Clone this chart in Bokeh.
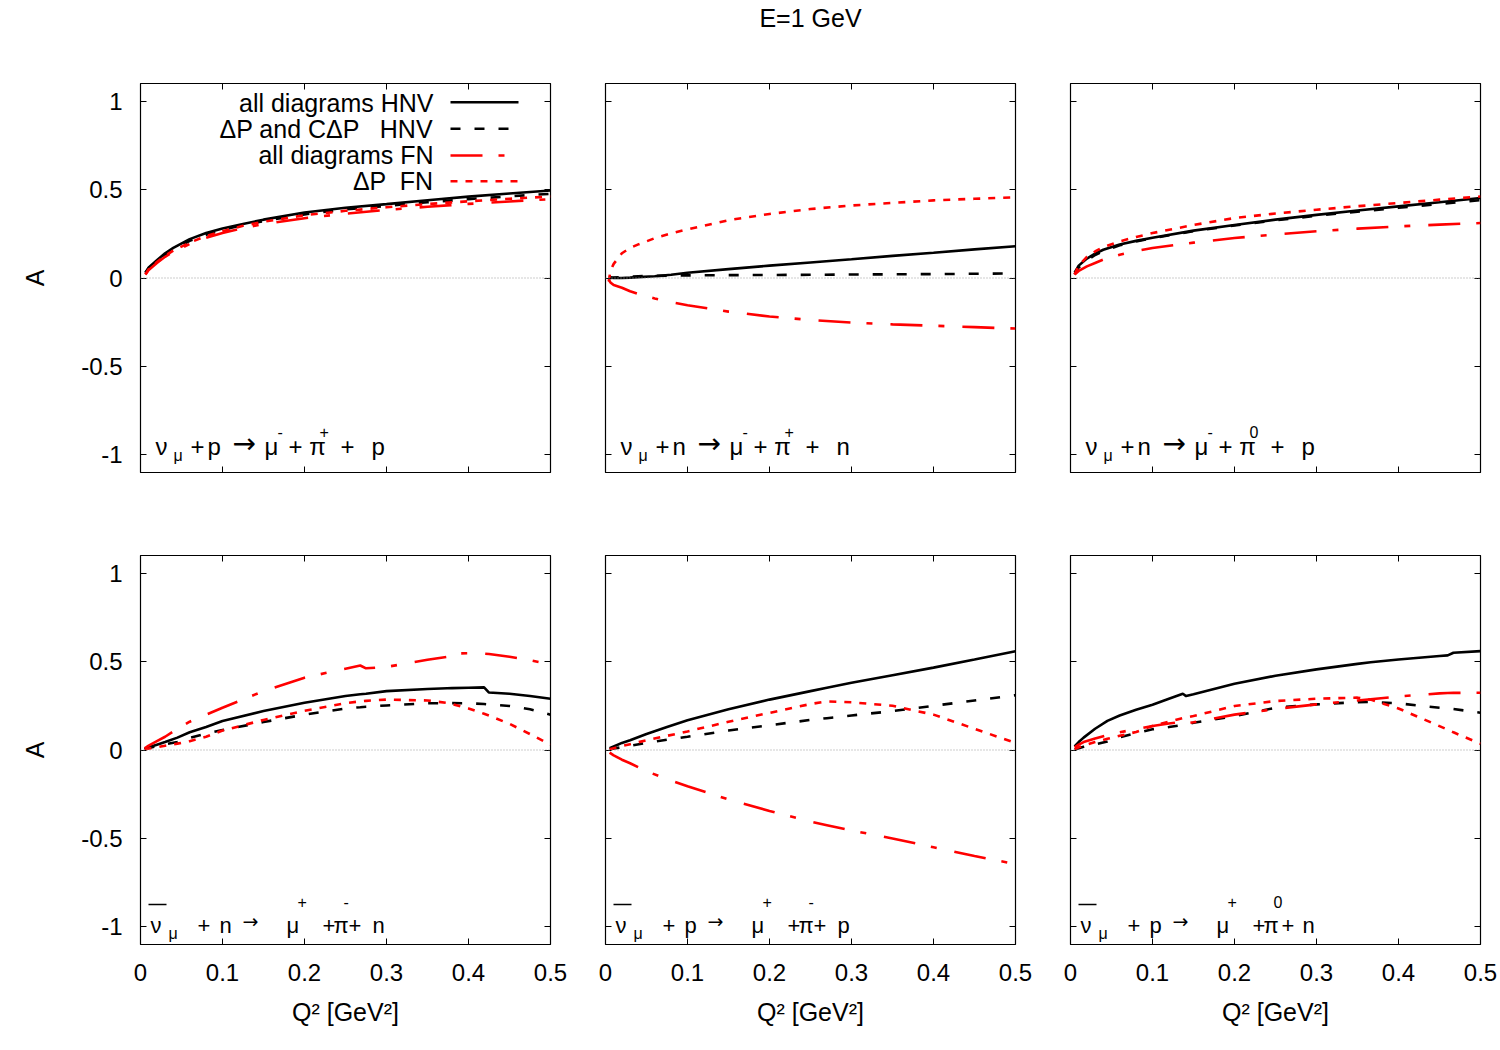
from bokeh.plotting import figure
from bokeh.layouts import column, row
from bokeh.models import Range1d, LinearAxis, FixedTicker, Span, ColumnDataSource
from bokeh.core.properties import value
from bokeh.embed import file_html
from bokeh.resources import INLINE

FONT = "Liberation Sans"
ARROW_FONT = "DejaVu Sans"

# ---- axes ----
x_ticks = [0, 0.1, 0.2, 0.3, 0.4, 0.5]
x_tick_labels = ["0", "0.1", "0.2", "0.3", "0.4", "0.5"]
y_ticks = [-1, -0.5, 0, 0.5, 1]
y_tick_labels = ["-1", "-0.5", "0", "0.5", "1"]
x_title = "Q\u00b2 [GeV\u00b2]"
y_title = "A"
plot_title = "E=1 GeV"

# ---- legend ----
series_names = ["all diagrams HNV", "\u0394P and C\u0394P \u00a0 HNV", "all diagrams FN", "\u0394P \u00a0FN"]
series_colors = ["black", "black", "red", "red"]
series_dashes = ["solid", "10 14", "32 16 6 18", "7 8"]

# ---- nu_mu + p -> mu- + pi+ + p ----
q_p1 = [0.006, 0.01, 0.02, 0.03, 0.04, 0.06, 0.08, 0.1, 0.125, 0.15, 0.2, 0.25, 0.3, 0.35, 0.4, 0.45, 0.5]
hnv_all_p1 = [0.03, 0.06, 0.10, 0.14, 0.17, 0.22, 0.254, 0.28, 0.305, 0.33, 0.37, 0.397, 0.418, 0.44, 0.46, 0.478, 0.495]
hnv_dp_p1 = [0.03, 0.055, 0.095, 0.13, 0.16, 0.21, 0.245, 0.272, 0.30, 0.322, 0.36, 0.388, 0.408, 0.428, 0.446, 0.462, 0.476]
fn_all_p1 = [0.02, 0.045, 0.085, 0.12, 0.148, 0.192, 0.228, 0.255, 0.283, 0.305, 0.338, 0.364, 0.385, 0.403, 0.419, 0.433, 0.446]
fn_dp_p1 = [0.02, 0.05, 0.09, 0.125, 0.155, 0.20, 0.237, 0.265, 0.295, 0.318, 0.355, 0.38, 0.40, 0.418, 0.434, 0.448, 0.461]

# ---- nu_mu + n -> mu- + pi+ + n ----
q_p2 = [0.004, 0.006, 0.01, 0.02, 0.03, 0.04, 0.06, 0.08, 0.1, 0.15, 0.2, 0.25, 0.3, 0.35, 0.4, 0.45, 0.5]
hnv_all_p2 = [0.005, 0.004, 0.0, 0.0, 0.002, 0.005, 0.01, 0.018, 0.03, 0.05, 0.07, 0.088, 0.106, 0.125, 0.143, 0.162, 0.18]
hnv_dp_p2 = [0.0, 0.0, 0.002, 0.005, 0.008, 0.01, 0.012, 0.014, 0.015, 0.016, 0.017, 0.018, 0.02, 0.021, 0.022, 0.024, 0.026]
fn_all_p2 = [-0.01, -0.025, -0.04, -0.055, -0.075, -0.09, -0.116, -0.137, -0.154, -0.19, -0.218, -0.237, -0.252, -0.262, -0.27, -0.278, -0.286]
fn_dp_p2 = [-0.02, 0.04, 0.08, 0.14, 0.17, 0.19, 0.225, 0.252, 0.275, 0.327, 0.362, 0.39, 0.41, 0.425, 0.439, 0.448, 0.456]

# ---- nu_mu + n -> mu- + pi0 + p ----
q_p3 = [0.005, 0.01, 0.02, 0.03, 0.04, 0.06, 0.08, 0.1, 0.15, 0.2, 0.25, 0.3, 0.35, 0.4, 0.45, 0.5]
hnv_all_p3 = [0.03, 0.07, 0.11, 0.138, 0.16, 0.19, 0.21, 0.228, 0.268, 0.30, 0.33, 0.357, 0.382, 0.405, 0.428, 0.452]
hnv_dp_p3 = [0.02, 0.06, 0.10, 0.13, 0.152, 0.185, 0.207, 0.225, 0.265, 0.297, 0.326, 0.352, 0.375, 0.397, 0.418, 0.44]
fn_all_p3 = [0.02, 0.04, 0.066, 0.085, 0.104, 0.132, 0.152, 0.17, 0.20, 0.226, 0.246, 0.264, 0.279, 0.292, 0.302, 0.311]
fn_dp_p3 = [0.02, 0.07, 0.12, 0.15, 0.175, 0.207, 0.232, 0.254, 0.30, 0.339, 0.365, 0.386, 0.406, 0.424, 0.443, 0.461]

# ---- anti-nu_mu + n -> mu+ + pi- + n ----
q_p4 = [0.005, 0.01, 0.02, 0.03, 0.045, 0.06, 0.08, 0.1, 0.15, 0.2, 0.25, 0.268, 0.275, 0.3, 0.35, 0.374, 0.38, 0.4, 0.419, 0.425, 0.45, 0.475, 0.5]
hnv_all_p4 = [0.005, 0.015, 0.03, 0.045, 0.07, 0.10, 0.13, 0.164, 0.22, 0.267, 0.305, 0.315, 0.318, 0.333, 0.345, 0.349, 0.35, 0.352, 0.354, 0.325, 0.318, 0.305, 0.29]
hnv_dp_p4 = [0.005, 0.012, 0.022, 0.032, 0.045, 0.068, 0.092, 0.113, 0.158, 0.20, 0.235, 0.242, 0.245, 0.252, 0.264, 0.265, 0.265, 0.264, 0.26, 0.258, 0.249, 0.23, 0.20]
fn_all_p4 = [0.01, 0.025, 0.05, 0.075, 0.12, 0.16, 0.20, 0.239, 0.333, 0.409, 0.46, 0.478, 0.462, 0.47, 0.51, 0.527, 0.546, 0.547, 0.545, 0.543, 0.527, 0.508, 0.484]
fn_dp_p4 = [0.003, 0.008, 0.016, 0.024, 0.036, 0.05, 0.075, 0.11, 0.17, 0.222, 0.265, 0.275, 0.278, 0.285, 0.28, 0.266, 0.26, 0.235, 0.205, 0.195, 0.148, 0.09, 0.03]

# ---- anti-nu_mu + p -> mu+ + pi- + p ----
q_p5 = [0.005, 0.01, 0.02, 0.03, 0.05, 0.075, 0.1, 0.15, 0.2, 0.25, 0.27, 0.3, 0.35, 0.4, 0.45, 0.5]
hnv_all_p5 = [0.01, 0.02, 0.04, 0.055, 0.09, 0.13, 0.168, 0.23, 0.285, 0.333, 0.352, 0.38, 0.423, 0.466, 0.512, 0.559]
hnv_dp_p5 = [0.003, 0.008, 0.016, 0.024, 0.04, 0.058, 0.075, 0.11, 0.14, 0.17, 0.18, 0.195, 0.22, 0.25, 0.28, 0.31]
fn_all_p5 = [-0.015, -0.03, -0.055, -0.075, -0.12, -0.165, -0.205, -0.28, -0.345, -0.405, -0.425, -0.455, -0.50, -0.55, -0.60, -0.645]
fn_dp_p5 = [0.004, 0.01, 0.022, 0.033, 0.055, 0.08, 0.105, 0.16, 0.21, 0.26, 0.275, 0.27, 0.25, 0.20, 0.12, 0.04]

# ---- anti-nu_mu + p -> mu+ + pi0 + n ----
q_p6 = [0.005, 0.01, 0.016, 0.03, 0.045, 0.06, 0.08, 0.1, 0.12, 0.137, 0.141, 0.15, 0.2, 0.25, 0.3, 0.35, 0.366, 0.4, 0.45, 0.46, 0.467, 0.5]
hnv_all_p6 = [0.02, 0.045, 0.07, 0.12, 0.165, 0.195, 0.228, 0.256, 0.29, 0.318, 0.305, 0.315, 0.375, 0.42, 0.456, 0.487, 0.496, 0.512, 0.532, 0.535, 0.55, 0.559]
hnv_dp_p6 = [0.003, 0.01, 0.018, 0.032, 0.048, 0.072, 0.095, 0.117, 0.13, 0.142, 0.144, 0.154, 0.192, 0.239, 0.258, 0.271, 0.272, 0.264, 0.239, 0.235, 0.232, 0.211]
fn_all_p6 = [0.015, 0.03, 0.045, 0.065, 0.085, 0.10, 0.118, 0.136, 0.15, 0.16, 0.15, 0.157, 0.20, 0.232, 0.258, 0.28, 0.287, 0.303, 0.32, 0.322, 0.323, 0.324]
fn_dp_p6 = [0.005, 0.015, 0.025, 0.045, 0.063, 0.08, 0.102, 0.136, 0.16, 0.18, 0.183, 0.192, 0.249, 0.277, 0.29, 0.296, 0.285, 0.235, 0.135, 0.115, 0.10, 0.035]

# ---- reaction labels: pieces (text, x offset in px from the frame's left edge, style) ----
label_p1 = [("\u03bd", 15, "main"), ("\u03bc", 33, "sub"), ("+", 50, "main"), ("p", 67, "main"),
            ("\u2192", 92, "arrow"), ("\u03bc", 124, "main"), ("-", 137, "sup"),
            ("+ \u03c0", 148, "main"), ("+", 179, "sup"), ("+", 200, "main"), ("p", 231, "main")]
label_p2 = [("\u03bd", 15, "main"), ("\u03bc", 33, "sub"), ("+", 50, "main"), ("n", 67, "main"),
            ("\u2192", 92, "arrow"), ("\u03bc", 124, "main"), ("-", 137, "sup"),
            ("+ \u03c0", 148, "main"), ("+", 179, "sup"), ("+", 200, "main"), ("n", 231, "main")]
label_p3 = [("\u03bd", 15, "main"), ("\u03bc", 33, "sub"), ("+", 50, "main"), ("n", 67, "main"),
            ("\u2192", 92, "arrow"), ("\u03bc", 124, "main"), ("-", 137, "sup"),
            ("+ \u03c0", 148, "main"), ("0", 179, "sup"), ("+", 200, "main"), ("p", 231, "main")]
label_p4 = [("\u03bd", 10, "main"), ("\u03bc", 28, "sub"), ("+", 57, "main"), ("n", 79, "main"),
            ("\u2192", 102, "arrow"), ("\u03bc", 146, "main"), ("+", 157, "sup"),
            ("+", 182, "main"), ("\u03c0", 193, "main"), ("-", 203, "sup"),
            ("+", 208, "main"), ("n", 232, "main")]
label_p5 = [("\u03bd", 10, "main"), ("\u03bc", 28, "sub"), ("+", 57, "main"), ("p", 79, "main"),
            ("\u2192", 102, "arrow"), ("\u03bc", 146, "main"), ("+", 157, "sup"),
            ("+", 182, "main"), ("\u03c0", 193, "main"), ("-", 203, "sup"),
            ("+", 208, "main"), ("p", 232, "main")]
label_p6 = [("\u03bd", 10, "main"), ("\u03bc", 28, "sub"), ("+", 57, "main"), ("p", 79, "main"),
            ("\u2192", 102, "arrow"), ("\u03bc", 146, "main"), ("+", 157, "sup"),
            ("+", 182, "main"), ("\u03c0", 193, "main"), ("0", 203, "sup"),
            ("+", 211, "main"), ("n", 232, "main")]
antineutrino = [False, False, False, True, True, True]

panels = [
    (q_p1, [hnv_all_p1, hnv_dp_p1, fn_all_p1, fn_dp_p1], label_p1),
    (q_p2, [hnv_all_p2, hnv_dp_p2, fn_all_p2, fn_dp_p2], label_p2),
    (q_p3, [hnv_all_p3, hnv_dp_p3, fn_all_p3, fn_dp_p3], label_p3),
    (q_p4, [hnv_all_p4, hnv_dp_p4, fn_all_p4, fn_dp_p4], label_p4),
    (q_p5, [hnv_all_p5, hnv_dp_p5, fn_all_p5, fn_dp_p5], label_p5),
    (q_p6, [hnv_all_p6, hnv_dp_p6, fn_all_p6, fn_dp_p6], label_p6),
]

FRAME_W, FRAME_H = 410, 389
X_MAX = 0.5
Y_MIN, Y_MAX = -1.1, 1.1
BORDER_LEFT = [140, 28, 28]
BORDER_RIGHT = [27, 27, 20]
BORDER_TOP = [40, 43]
BORDER_BOTTOM = [40, 106]

# text sizes (px)
TICK_FS = 24
TITLE_FS = 25
LEGEND_FS = 25
SMALL_FS = 16
# per-row label settings: baselines in px from the frame top, and font sizes
PIECE_Y = {
    0: {"main": 372, "sub": 378, "sup": 354, "arrow": 370},
    1: {"main": 378, "sub": 384, "sup": 352, "arrow": 373},
}
PIECE_FS = {
    0: {"main": 24, "sub": SMALL_FS, "sup": SMALL_FS, "arrow": 28},
    1: {"main": 22, "sub": SMALL_FS, "sup": SMALL_FS, "arrow": 19},
}
OVERLINE_Y = 349


def px_to_x(px):
    return px * X_MAX / FRAME_W


def px_to_y(px_from_top):
    return Y_MAX - px_from_top * (Y_MAX - Y_MIN) / FRAME_H


def baseline_y(px_from_top, fs):
    # lift so that the glyph baseline lands on the requested row
    return px_to_y(px_from_top - 0.37 * fs)


def add_axis(p, loc, ticks, labels=None, title=None):
    ax = LinearAxis(ticker=FixedTicker(ticks=ticks))
    ax.axis_line_color = None
    ax.major_tick_in = 6
    ax.major_tick_out = 0
    ax.major_tick_line_color = "black"
    ax.major_tick_line_width = 1
    ax.minor_tick_line_color = None
    if labels is None:
        ax.major_label_overrides = {t: "" for t in ticks}
        ax.major_label_standoff = 0
        ax.major_label_text_font_size = "1px"
    else:
        ax.major_label_overrides = dict(zip(ticks, labels))
        ax.major_label_text_font = FONT
        ax.major_label_text_font_size = f"{TICK_FS}px"
        ax.major_label_text_color = "black"
        ax.major_label_standoff = 18 if loc == "left" else 19
    if title is not None:
        ax.axis_label = title
        ax.axis_label_text_font = FONT
        ax.axis_label_text_font_size = f"{TITLE_FS}px"
        ax.axis_label_text_font_style = "normal"
        ax.axis_label_text_color = "black"
        ax.axis_label_standoff = 29 if loc == "left" else 14
    p.add_layout(ax, loc)


def make_panel(idx):
    r, c = divmod(idx, 3)
    q, ys, label = panels[idx]
    p = figure(frame_width=FRAME_W, frame_height=FRAME_H,
               x_range=Range1d(0, X_MAX), y_range=Range1d(Y_MIN, Y_MAX),
               x_axis_location=None, y_axis_location=None,
               toolbar_location=None, output_backend="svg",
               min_border_left=BORDER_LEFT[c], min_border_right=BORDER_RIGHT[c],
               min_border_top=BORDER_TOP[r], min_border_bottom=BORDER_BOTTOM[r])
    p.grid.visible = False
    p.outline_line_color = "black"
    p.outline_line_width = 1.2
    p.outline_line_alpha = 1.0

    add_axis(p, "left", y_ticks, y_tick_labels if c == 0 else None, y_title if c == 0 else None)
    add_axis(p, "below", x_ticks, x_tick_labels if r == 1 else None, x_title if r == 1 else None)
    add_axis(p, "above", x_ticks)
    add_axis(p, "right", y_ticks)

    p.add_layout(Span(location=0, dimension="width", line_color="#9a9a9a",
                      line_width=1, line_dash="1 2"))

    for vals, col, dash in zip(ys, series_colors, series_dashes):
        src = ColumnDataSource(dict(q=q, a=vals))
        p.line("q", "a", source=src, line_color=col, line_width=2.6, line_dash=dash)

    # reaction label, piece by piece
    for txt, dx, kind in label:
        fs = PIECE_FS[r][kind]
        font = ARROW_FONT if kind == "arrow" else FONT
        p.text(x=[px_to_x(dx)], y=[baseline_y(PIECE_Y[r][kind], fs)], text=[txt],
               text_font=value(font), text_font_size=f"{fs}px",
               text_baseline="alphabetic", text_align="left", text_color="black")
    if antineutrino[idx]:
        nu_dx = label[0][1]
        p.line([px_to_x(nu_dx - 2), px_to_x(nu_dx + 16)], [px_to_y(OVERLINE_Y)] * 2,
               line_color="black", line_width=1.5)

    if idx == 0:
        text_px = [28.7, 54.7, 80.7, 106.7]
        line_px = [18.7, 45.3, 72.0, 97.7]
        p.text(x=[px_to_x(293)] * 4, y=[baseline_y(t, LEGEND_FS) for t in text_px],
               text=series_names, text_font=value(FONT), text_font_size=f"{LEGEND_FS}px",
               text_align="right", text_baseline="alphabetic", text_color="black")
        for lp, col, dash in zip(line_px, series_colors, series_dashes):
            p.line([px_to_x(310), px_to_x(378)], [px_to_y(lp)] * 2,
                   line_color=col, line_width=2.6, line_dash=dash)
    return p


TITLE_H = 43
title_fig = figure(width=1500, height=TITLE_H, x_range=Range1d(0, 1500), y_range=Range1d(0, TITLE_H),
                   x_axis_location=None, y_axis_location=None, toolbar_location=None,
                   output_backend="svg", min_border=0)
title_fig.outline_line_color = None
title_fig.grid.visible = False
title_fig.text(x=[810], y=[TITLE_H - (27 - 0.37 * TITLE_FS)], text=[plot_title], text_align="center",
               text_baseline="alphabetic", text_font=value(FONT), text_font_size=f"{TITLE_FS}px",
               text_color="black")

figs = [make_panel(i) for i in range(6)]
layout = column(title_fig, row(*figs[:3], spacing=0), row(*figs[3:], spacing=0), spacing=0)

open("out.html", "w").write(file_html(layout, INLINE))
